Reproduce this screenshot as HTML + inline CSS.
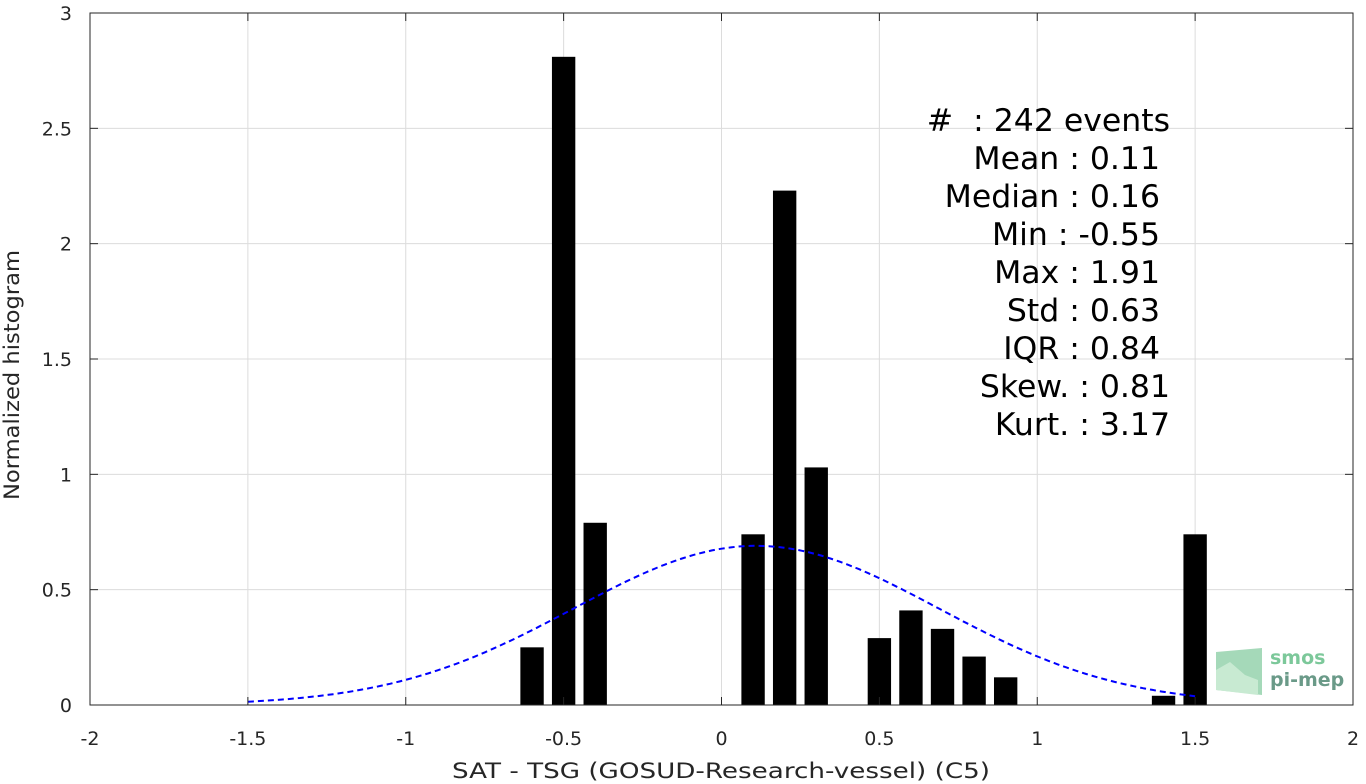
<!DOCTYPE html>
<html><head><meta charset="utf-8"><style>
body{margin:0;background:#fff;}
svg{display:block;font-family:"DejaVu Sans","Liberation Sans",sans-serif;}
</style></head><body>
<svg id="chart" width="1366" height="784">
<rect x="0" y="0" width="1366" height="784" fill="#fff"/>
<g id="grid"></g>
<g id="bars"></g>
<path id="gauss" fill="none" stroke="#0000ff" stroke-width="2" stroke-dasharray="6,4"/>
<rect x="90" y="13" width="1263" height="692" fill="none" stroke="#262626" stroke-width="1"/>
<g id="ticks"></g>
<text x="721" y="778" font-size="21" text-anchor="middle" textLength="538" lengthAdjust="spacingAndGlyphs" fill="#262626">SAT - TSG (GOSUD-Research-vessel) (C5)</text>
<text transform="translate(19,375) rotate(-90)" font-size="21" text-anchor="middle" textLength="250" lengthAdjust="spacingAndGlyphs" fill="#262626">Normalized histogram</text>
<g font-size="31.5" fill="#000" text-anchor="end" style="white-space:pre">
<text x="1170" y="131" xml:space="preserve">#  : 242 events</text>
<text x="1160" y="169">Mean : 0.11</text>
<text x="1160" y="207">Median : 0.16</text>
<text x="1160" y="245">Min : -0.55</text>
<text x="1160" y="283">Max : 1.91</text>
<text x="1160" y="321">Std : 0.63</text>
<text x="1160" y="359">IQR : 0.84</text>
<text x="1170" y="397">Skew. : 0.81</text>
<text x="1170" y="435">Kurt. : 3.17</text>
</g>
<g>
<path d="M1216,652 L1262,648 L1262,695 L1216,690 Z" fill="#8fd0a8" opacity="0.8"/>
<path d="M1216,670 L1230,662 L1245,675 L1258,680 L1258,695 L1216,690 Z" fill="#c8ead2"/>
<text x="1270" y="664" font-size="19" font-weight="bold" fill="#7cc89a">smos</text>
<text x="1270" y="686" font-size="19" font-weight="bold" fill="#6a9a88">pi-mep</text>
</g>
</svg>
<script>
const binCenters=[-0.6,-0.5,-0.4,0.1,0.2,0.3,0.5,0.6,0.7,0.8,0.9,1.4,1.5];
const binValues=[0.25,2.81,0.79,0.74,2.23,1.03,0.29,0.41,0.33,0.21,0.12,0.04,0.74];
const xTicks=[-2,-1.5,-1,-0.5,0,0.5,1,1.5,2];
const xTickLabels=["-2","-1.5","-1","-0.5","0","0.5","1","1.5","2"];
const yTicks=[0,0.5,1,1.5,2,2.5,3];
const yTickLabels=["0","0.5","1","1.5","2","2.5","3"];
const gaussMean=[0.11];
const gaussPeak=[0.69];
const gaussSigma=[0.578];
const gaussRange=[-1.5,1.5];
const barWidth=0.074;
const NS="http://www.w3.org/2000/svg";
const X=v=>90+(v+2)/4*1263, Y=v=>705-v/3*692;
const grid=document.getElementById('grid'),ticks=document.getElementById('ticks'),bars=document.getElementById('bars');
function mk(tag,attrs,parent){const e=document.createElementNS(NS,tag);for(const k in attrs)e.setAttribute(k,attrs[k]);parent.appendChild(e);return e;}
xTicks.forEach((t,i)=>{
  const gl=mk('line',{x1:X(t),x2:X(t),y1:13,y2:705,stroke:'#dcdcdc','stroke-width':1},grid);
  
  
  mk('line',{x1:X(t),x2:X(t),y1:705,y2:697,stroke:'#262626'},ticks);
  mk('line',{x1:X(t),x2:X(t),y1:13,y2:21,stroke:'#262626'},ticks);
  const tx=mk('text',{x:X(t),y:745,'font-size':19,'text-anchor':'middle',fill:'#262626'},ticks);
  tx.textContent=xTickLabels[i];
  
  
});
yTicks.forEach((t,i)=>{
  const gl=mk('line',{x1:90,x2:1353,y1:Y(t),y2:Y(t),stroke:'#dcdcdc','stroke-width':1},grid);
  
  
  mk('line',{x1:90,x2:98,y1:Y(t),y2:Y(t),stroke:'#262626'},ticks);
  mk('line',{x1:1345,x2:1353,y1:Y(t),y2:Y(t),stroke:'#262626'},ticks);
  const tx=mk('text',{x:72,y:Y(t)+7,'font-size':19,'text-anchor':'end',fill:'#262626'},ticks);
  tx.textContent=yTickLabels[i];
  
  
});
binCenters.forEach((c,i)=>{
  const r=mk('rect',{x:X(c-barWidth/2),y:Y(binValues[i]),width:X(c+barWidth/2)-X(c-barWidth/2),height:Y(0)-Y(binValues[i]),fill:'#000'},bars);
  
  
});
let d='';
for(let k=0;k<=200;k++){const x=gaussRange[0]+(gaussRange[1]-gaussRange[0])*k/200;
  const y=gaussPeak[0]*Math.exp(-0.5*Math.pow((x-gaussMean[0])/gaussSigma[0],2));
  d+=(k?'L':'M')+X(x).toFixed(1)+','+Y(y).toFixed(1);}
document.getElementById('gauss').setAttribute('d',d);
</script>
</body></html>
